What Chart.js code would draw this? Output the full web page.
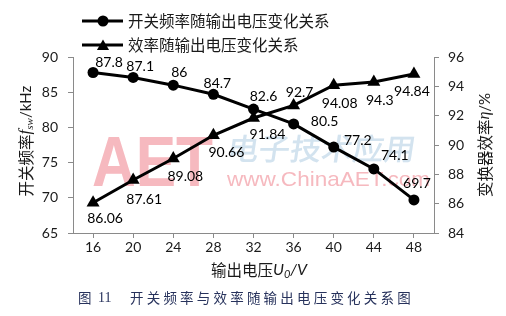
<!DOCTYPE html>
<html><head><meta charset="utf-8">
<script src="https://cdn.jsdelivr.net/npm/chart.js@4/dist/chart.umd.min.js"></script>
<style>html,body{margin:0;padding:0;background:#fff;}#wrap{position:relative;width:506px;height:316px;}canvas{display:block;}</style>
</head><body><div id="wrap"><canvas id="c" width="506" height="316"></canvas></div>
<script>
// ---- data ----
const voltages = ['16','20','24','28','32','36','40','44','48'];
const switchingFreq = [87.8, 87.1, 86, 84.7, 82.6, 80.5, 77.2, 74.1, 69.7];
const efficiency = [86.06, 87.61, 89.08, 90.66, 91.84, 92.7, 94.08, 94.3, 94.84];
const freqName = '开关频率随输出电压变化关系';
const effName = '效率随输出电压变化关系';
const captionNo = '图 11';
const captionText = '开关频率与效率随输出电压变化关系图';

// ---- styles ----
const CJK = '"Noto Sans CJK SC"';
const NUM = 'Lato';
const AXIS = '#8a8a8a';
const TXT = '#1a1a1a';

// label offsets (dx, dy from the point, text centre)
const freqLabelOffsets = [[16,-10],[7,-11],[6,-13],[4,-11],[10,-13],[31,-2],[24,-7],[21,-13],[3,-16]];
const effLabelOffsets = [[12,16],[11,19],[12,18],[13,17],[14,16],[6,-13],[6,18],[6,19],[-2,17]];

function drawRich(ctx, parts, cx, cy, angle, color) {
  ctx.save();
  ctx.translate(cx, cy); ctx.rotate(angle);
  let total = 0;
  parts.forEach(p => { ctx.font = p.font; p.w = ctx.measureText(p.t).width; total += p.w; });
  let x = -total / 2;
  ctx.textBaseline = 'middle'; ctx.textAlign = 'left'; ctx.fillStyle = color;
  parts.forEach(p => { ctx.font = p.font; ctx.fillText(p.t, x, p.dy || 0); x += p.w; });
  ctx.restore();
}

const watermarkPlugin = {
  id: 'watermark',
  beforeDatasetsDraw(chart) {
    const ctx = chart.ctx;
    ctx.save();
    // AET
    ctx.fillStyle = '#f6b9bf';
    ctx.font = 'bold 71px "Liberation Sans"';
    ctx.textBaseline = 'alphabetic'; ctx.textAlign = 'left';
    let w = ctx.measureText('AET').width;
    ctx.save(); ctx.translate(92, 186); ctx.scale(121 / w, 1); ctx.fillText('AET', 0, 0); ctx.restore();
    // calligraphy
    ctx.fillStyle = '#d3e3ef';
    ctx.font = '500 30px ' + CJK;
    w = ctx.measureText('电子技术应用').width;
    ctx.save(); ctx.translate(226, 160); ctx.transform(1, 0, -0.15, 1, 0, 0); ctx.scale(188 / w, 1); ctx.fillText('电子技术应用', 0, 0); ctx.restore();
    // url
    ctx.fillStyle = '#f6b9bf';
    ctx.font = '21px "Liberation Sans"';
    w = ctx.measureText('www.ChinaAET.com').width;
    ctx.save(); ctx.translate(227, 186); ctx.scale(203 / w, 1); ctx.fillText('www.ChinaAET.com', 0, 0); ctx.restore();
    ctx.restore();
  }
};

const labelPlugin = {
  id: 'pointLabels',
  afterDatasetsDraw(chart) {
    const ctx = chart.ctx;
    const offs = [freqLabelOffsets, effLabelOffsets];
    ctx.save();
    ctx.font = '14px ' + NUM; ctx.fillStyle = '#000'; ctx.textAlign = 'center'; ctx.textBaseline = 'middle';
    chart.data.datasets.forEach((ds, di) => {
      const meta = chart.getDatasetMeta(di);
      meta.data.forEach((pt, i) => {
        ctx.fillText(String(ds.data[i]), pt.x + offs[di][i][0], pt.y + offs[di][i][1]);
      });
    });
    ctx.restore();
  }
};

const decorPlugin = {
  id: 'decor',
  afterDraw(chart) {
    const ctx = chart.ctx;
    // legend
    const items = [
      {name: chart.data.datasets[0].label, y: 21, style: 'circle'},
      {name: chart.data.datasets[1].label, y: 45, style: 'triangle'}
    ];
    ctx.save();
    items.forEach(it => {
      ctx.strokeStyle = '#000'; ctx.lineWidth = 3;
      ctx.beginPath(); ctx.moveTo(82, it.y); ctx.lineTo(123, it.y); ctx.stroke();
      ctx.fillStyle = '#000';
      ctx.beginPath();
      if (it.style === 'circle') { ctx.arc(103, it.y, 5.5, 0, Math.PI * 2); }
      else { const r = 7; for (let k = 0; k < 3; k++) { const a = k * 2 * Math.PI / 3; const px = 103 + Math.sin(a) * r, py = it.y + 1.5 - Math.cos(a) * r; k ? ctx.lineTo(px, py) : ctx.moveTo(px, py); } ctx.closePath(); }
      ctx.fill();
      ctx.font = '15.5px ' + CJK; ctx.fillStyle = TXT; ctx.textBaseline = 'middle'; ctx.textAlign = 'left';
      ctx.fillText(it.name, 128, it.y);
    });
    ctx.restore();
    // axis titles
    drawRich(ctx, [
      {t: '开关频率', font: '15.5px ' + CJK},
      {t: 'f', font: 'italic 17px "Liberation Serif"'},
      {t: 'sw', font: 'italic 11px "Liberation Serif"', dy: 4},
      {t: '/kHz', font: '15px ' + NUM}
    ], 26, 141, -Math.PI / 2, TXT);
    drawRich(ctx, [
      {t: '变换器效率', font: '15.5px ' + CJK},
      {t: 'η', font: 'italic 16px "Liberation Serif"'},
      {t: '/%', font: '15px ' + NUM}
    ], 485, 145, -Math.PI / 2, TXT);
    drawRich(ctx, [
      {t: '输出电压', font: '15.5px ' + CJK},
      {t: 'U', font: 'italic 16px ' + NUM},
      {t: '0', font: 'italic 11px ' + NUM, dy: 4},
      {t: '/V', font: 'italic 16px ' + NUM}
    ], 259, 270, 0, TXT);
    // caption
    ctx.save();
    ctx.fillStyle = '#27325c'; ctx.textBaseline = 'middle'; ctx.textAlign = 'left';
    ctx.font = '13.5px ' + CJK;
    ctx.fillText('图', 78, 298);
    ctx.font = '14px "Liberation Serif"';
    ctx.fillText('11', 98, 298);
    ctx.font = '13.5px ' + CJK;
    ctx.letterSpacing = '3.2px';
    ctx.fillText(captionText, 130, 298);
    ctx.restore();
  }
};

const tickFont = {family: NUM, size: 14};
new Chart(document.getElementById('c'), {
  type: 'line',
  data: {
    labels: voltages,
    datasets: [
      {label: freqName, data: switchingFreq, yAxisID: 'y', borderColor: '#000', backgroundColor: '#000',
       borderWidth: 3, pointStyle: 'circle', pointRadius: 5.5, pointBorderWidth: 0, tension: 0},
      {label: effName, data: efficiency, yAxisID: 'y1', borderColor: '#000', backgroundColor: '#000',
       borderWidth: 3, pointStyle: 'triangle', pointRadius: 7.5, pointBorderWidth: 0, tension: 0}
    ]
  },
  options: {
    responsive: false, animation: false, devicePixelRatio: 1,
    layout: {padding: {top: 57, left: 0, right: 0, bottom: 0}},
    plugins: {legend: {display: false}, tooltip: {enabled: false}, title: {display: false}},
    scales: {
      x: {type: 'category', offset: true,
          grid: {drawOnChartArea: false, drawTicks: true, tickLength: 5, color: AXIS, offset: false},
          border: {display: true, color: AXIS, width: 1},
          ticks: {font: tickFont, color: TXT, padding: 1, maxRotation: 0},
          afterFit: s => { s.height = 83; }},
      y: {position: 'left', min: 65, max: 90,
          grid: {drawOnChartArea: false, drawTicks: true, tickLength: 5, color: AXIS},
          border: {display: true, color: AXIS, width: 1},
          ticks: {stepSize: 5, font: tickFont, color: TXT, padding: 10},
          afterFit: s => { s.width = 73; }},
      y1: {position: 'right', min: 84, max: 96,
          grid: {drawOnChartArea: false, drawTicks: true, tickLength: 5, color: AXIS},
          border: {display: true, color: AXIS, width: 1},
          ticks: {stepSize: 2, font: tickFont, color: TXT, padding: 9},
          afterFit: s => { s.width = 72; }}
    }
  },
  plugins: [watermarkPlugin, labelPlugin, decorPlugin]
});
</script>
</body></html>
